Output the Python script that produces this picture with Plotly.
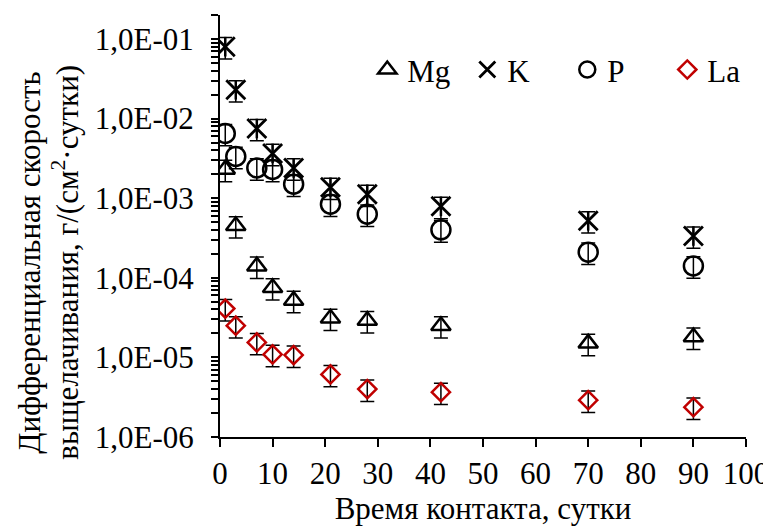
import plotly.graph_objects as go

days = [1, 3, 7, 10, 14, 21, 28, 42, 70, 90]
mg = [2.3e-3, 4.5e-4, 1.4e-4, 7.5e-5, 5.2e-5, 3.1e-5, 2.9e-5, 2.5e-5, 1.5e-5, 1.8e-5]
k = [8.0e-2, 2.3e-2, 7.5e-3, 3.65e-3, 2.4e-3, 1.37e-3, 1.12e-3, 7.9e-4, 5.2e-4, 3.35e-4]
p = [6.5e-3, 3.35e-3, 2.4e-3, 2.3e-3, 1.5e-3, 8.4e-4, 6.3e-4, 4.0e-4, 2.1e-4, 1.41e-4]
la = [4.1e-5, 2.5e-5, 1.54e-5, 1.09e-5, 1.07e-5, 6.1e-6, 4.0e-6, 3.65e-6, 2.9e-6, 2.37e-6]
err_pct = 30

y_decades = [1e-6, 1e-5, 1e-4, 1e-3, 1e-2, 1e-1]
y_decade_labels = ["1,0E-06", "1,0E-05", "1,0E-04", "1,0E-03", "1,0E-02", "1,0E-01"]
x_tickvals = [0, 10, 20, 30, 40, 50, 60, 70, 80, 90, 100]
y_title_lines = ["Дифференциальная скорость", "выщелачивания, г/(см<sup>2</sup>·сутки)"]

# minor log ticks at 2..9 of each decade (up to the axis top at 0.2)
y_minor = [m * d for d in y_decades for m in range(2, 10) if m * d <= 0.2 + 1e-12]

FONT = "Liberation Serif"
FS = 31

def err():
    return dict(type="percent", value=err_pct, color="black", thickness=1.5, width=7)

fig = go.Figure()
fig.add_trace(go.Scatter(x=days, y=mg, mode="markers", name="Mg",
                         marker=dict(symbol="triangle-up-open", size=17, color="black",
                                     line=dict(width=2.5, color="black")),
                         error_y=err()))
fig.add_trace(go.Scatter(x=days, y=k, mode="markers", name="K",
                         marker=dict(symbol="x-thin-open", size=19, color="black",
                                     line=dict(width=2.8, color="black")),
                         error_y=err()))
fig.add_trace(go.Scatter(x=days, y=k, mode="markers", name="K", showlegend=False,
                         marker=dict(symbol="line-ns-open", size=14, color="black",
                                     line=dict(width=2.5, color="black"))))
fig.add_trace(go.Scatter(x=days, y=p, mode="markers", name="P",
                         marker=dict(symbol="circle-open", size=19, color="black",
                                     line=dict(width=2.5, color="black")),
                         error_y=err()))
fig.add_trace(go.Scatter(x=days, y=la, mode="markers", name="La",
                         marker=dict(symbol="diamond-open", size=14, color="#C00000",
                                     line=dict(width=2.5, color="#C00000")),
                         error_y=err()))

# page body has an 8px default margin, so the figure is 8px smaller than the window
fig.update_layout(
    width=763, height=523,
    margin=dict(l=212, r=25, t=7, b=94, autoexpand=False),
    paper_bgcolor="white", plot_bgcolor="white",
    font=dict(family=FONT, size=FS, color="black"),
    showlegend=True,
    legend=dict(orientation="h", x=0.28, y=0.934, xanchor="left", yanchor="top",
                bgcolor="rgba(0,0,0,0)", font=dict(family=FONT, size=FS), entrywidth=55,
                traceorder="normal"),
)
fig.update_xaxes(range=[0, 100], tickvals=x_tickvals, ticks="outside", ticklen=8, tickwidth=2,
                 tickcolor="black", showline=True, linewidth=2, linecolor="black",
                 showgrid=False, zeroline=False, ticklabelstandoff=0,
                 tickfont=dict(family=FONT, size=FS), automargin=False,
                 title=dict(text="Время контакта, сутки", standoff=6,
                            font=dict(family=FONT, size=FS)))
fig.update_yaxes(type="log", range=[-6, -0.699], tickvals=y_decades, ticktext=y_decade_labels,
                 ticks="outside", ticklen=7, tickwidth=2, tickcolor="black",
                 showline=True, linewidth=2, linecolor="black", showgrid=False, zeroline=False,
                 ticklabelstandoff=11, tickfont=dict(family=FONT, size=FS), automargin=False,
                 minor=dict(tickmode="array", tickvals=y_minor, ticks="outside", ticklen=7,
                            tickwidth=2, tickcolor="black", showgrid=False))
for line, shift in zip(y_title_lines, [-190, -154]):
    fig.add_annotation(text=line, textangle=-90, xref="paper", yref="paper", x=0, y=0.413,
                       xanchor="center", yanchor="middle", xshift=shift, showarrow=False,
                       font=dict(family=FONT, size=FS, color="black"))
fig.write_html("out.html")
